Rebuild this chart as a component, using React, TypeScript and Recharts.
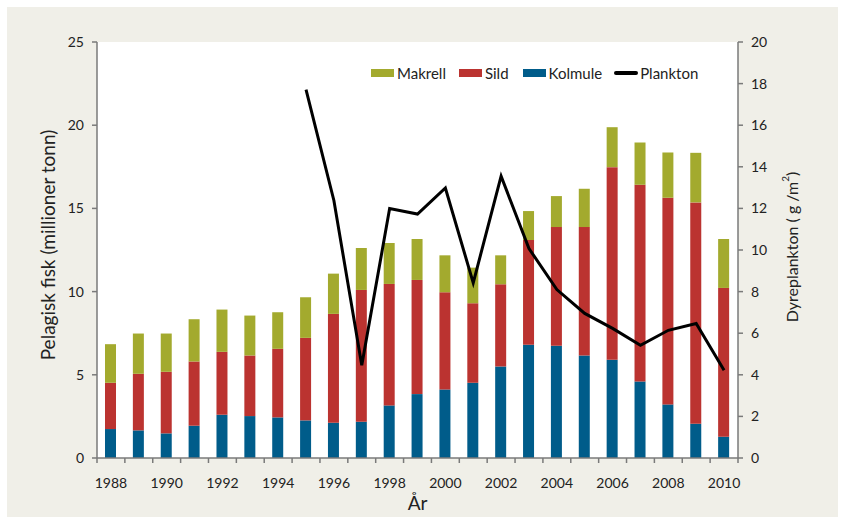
import React from "react";
import { ComposedChart, Bar, Line, XAxis, YAxis } from "recharts";

const years = [1988, 1989, 1990, 1991, 1992, 1993, 1994, 1995, 1996, 1997, 1998, 1999, 2000, 2001, 2002, 2003, 2004, 2005, 2006, 2007, 2008, 2009, 2010];
const kolmule = [1.74, 1.66, 1.48, 1.94, 2.6, 2.52, 2.44, 2.26, 2.12, 2.18, 3.16, 3.84, 4.12, 4.52, 5.5, 6.8, 6.74, 6.16, 5.9, 4.6, 3.22, 2.06, 1.28];
const sild = [2.78, 3.4, 3.7, 3.86, 3.78, 3.64, 4.12, 4.96, 6.54, 7.92, 7.3, 6.86, 5.84, 4.78, 4.94, 6.3, 7.14, 7.72, 11.58, 11.82, 12.42, 13.3, 8.94];
const makrell = [2.32, 2.42, 2.3, 2.54, 2.54, 2.4, 2.2, 2.44, 2.42, 2.52, 2.46, 2.46, 2.22, 2.14, 1.74, 1.74, 1.86, 2.3, 2.4, 2.54, 2.72, 2.98, 2.94];
const plankton: (number | null)[] = [null, null, null, null, null, null, null, 17.71, 12.38, 4.46, 11.99, 11.73, 12.98, 8.42, 13.55, 10.07, 8.1, 6.95, 6.23, 5.42, 6.14, 6.47, 4.22];
const leftTicks = [0, 5, 10, 15, 20, 25];
const rightTicks = [0, 2, 4, 6, 8, 10, 12, 14, 16, 18, 20];
const labeledYears = [1988, 1990, 1992, 1994, 1996, 1998, 2000, 2002, 2004, 2006, 2008, 2010];

const data = years.map((y, i) => ({
  year: y,
  kolmule: kolmule[i],
  sild: sild[i],
  makrell: makrell[i],
  plankton: plankton[i],
}));

const FONT = "Lato, 'DejaVu Sans', sans-serif";
const C_GREEN = "#a3aa2e";
const C_RED = "#bb3330";
const C_BLUE = "#005c8a";
const AXIS = "#7a7a7a";

const XTick = (props: any) => {
  const { x, y, payload, index } = props;
  const half = payload && payload.offset ? payload.offset : 13.94;
  const axisY = y - 5;
  const isLast = index === years.length - 1;
  return (
    <g>
      <line x1={x - half} x2={x - half} y1={axisY} y2={axisY + 5} stroke={AXIS} strokeWidth={1.5} />
      {isLast ? <line x1={x + half} x2={x + half} y1={axisY} y2={axisY + 5} stroke={AXIS} strokeWidth={1.5} /> : null}
      {labeledYears.includes(payload.value) ? (
        <text x={x} y={axisY + 30} textAnchor="middle" fontSize={14} fill="#222" fontFamily={FONT}>
          {payload.value}
        </text>
      ) : null}
    </g>
  );
};

const LeftLabel = (props: any) => {
  const vb = props.viewBox || { x: 0, y: 42, height: 416 };
  const cx = vb.x + 47;
  const cy = vb.y + vb.height / 2 - 5;
  return (
    <text x={cx} y={cy} transform={`rotate(-90 ${cx} ${cy})`} textAnchor="middle" dominantBaseline="central" fontSize={19} fill="#222" fontFamily={FONT}>
      Pelagisk fisk (millioner tonn)
    </text>
  );
};

const RightLabel = (props: any) => {
  const vb = props.viewBox || { x: 738, y: 42, height: 416 };
  const cx = vb.x + 53;
  const cy = vb.y + vb.height / 2 - 3;
  return (
    <text x={cx} y={cy} transform={`rotate(-90 ${cx} ${cy})`} textAnchor="middle" dominantBaseline="central" fontSize={16} fill="#222" fontFamily={FONT}>
      <tspan>Dyreplankton ( g /m</tspan>
      <tspan fontSize={10} dy={-6}>2</tspan>
      <tspan dy={6}>)</tspan>
    </text>
  );
};

const legendItems = [
  { name: "Makrell", color: C_GREEN, kind: "rect" },
  { name: "Sild", color: C_RED, kind: "rect" },
  { name: "Kolmule", color: C_BLUE, kind: "rect" },
  { name: "Plankton", color: "#000", kind: "line" },
];
const legendGaps = [13, 14, 12, 0];

export default function App() {
  return (
    <div style={{ position: "absolute", left: 0, top: 0, width: 844, height: 518, background: "#ffffff", fontFamily: FONT }}>
      <div style={{ position: "absolute", left: 7, top: 7, width: 831, height: 510, background: "#f0efe8" }} />
      <div style={{ position: "absolute", left: 97, top: 42, width: 641, height: 416, background: "#ffffff" }} />
      <div style={{ position: "absolute", left: 0, top: 0 }}>
        <ComposedChart width={844} height={518} data={data} margin={{ top: 42, right: 46, bottom: 30, left: 0 }} barSize={11}>
          <XAxis
            dataKey="year"
            xAxisId={0}
            interval={0}
            height={30}
            tickLine={false}
            tickSize={5}
            tickMargin={0}
            axisLine={{ stroke: AXIS, strokeWidth: 1.5 }}
            tick={<XTick />}
            label={{ value: "År", position: "insideBottom", offset: -22, fontSize: 19, fill: "#222", fontFamily: FONT }}
          />
          <YAxis
            yAxisId="left"
            orientation="left"
            width={97}
            domain={[0, 25]}
            ticks={leftTicks}
            interval={0}
            tickSize={5}
            tickMargin={8}
            tickLine={{ stroke: AXIS, strokeWidth: 1.5 }}
            axisLine={{ stroke: AXIS, strokeWidth: 1.5 }}
            tick={{ fontSize: 14, fill: "#222", fontFamily: FONT }}
            label={<LeftLabel />}
          />
          <YAxis
            yAxisId="right"
            orientation="right"
            width={60}
            domain={[0, 20]}
            ticks={rightTicks}
            interval={0}
            tickSize={5}
            tickMargin={8}
            tickLine={{ stroke: AXIS, strokeWidth: 1.5 }}
            axisLine={{ stroke: AXIS, strokeWidth: 1.5 }}
            tick={{ fontSize: 14, fill: "#222", fontFamily: FONT }}
            label={<RightLabel />}
          />
          <Bar yAxisId="left" dataKey="kolmule" stackId="a" fill={C_BLUE} isAnimationActive={false} />
          <Bar yAxisId="left" dataKey="sild" stackId="a" fill={C_RED} isAnimationActive={false} />
          <Bar yAxisId="left" dataKey="makrell" stackId="a" fill={C_GREEN} isAnimationActive={false} />
          <Line yAxisId="right" dataKey="plankton" type="linear" stroke="#000" strokeWidth={3} dot={false} activeDot={false} isAnimationActive={false} />
        </ComposedChart>
      </div>
      <div style={{ position: "absolute", left: 371, top: 64, display: "flex", alignItems: "center", fontSize: 15, color: "#222", whiteSpace: "nowrap" }}>
        {legendItems.map((it, i) => (
          <div key={it.name} style={{ display: "flex", alignItems: "center", marginRight: legendGaps[i] }}>
            {it.kind === "rect" ? (
              <div style={{ width: 23, height: 8, background: it.color, marginRight: 3 }} />
            ) : (
              <div style={{ width: 24, height: 4, background: it.color, marginRight: 2, borderRadius: 2 }} />
            )}
            <span>{it.name}</span>
          </div>
        ))}
      </div>
    </div>
  );
}
